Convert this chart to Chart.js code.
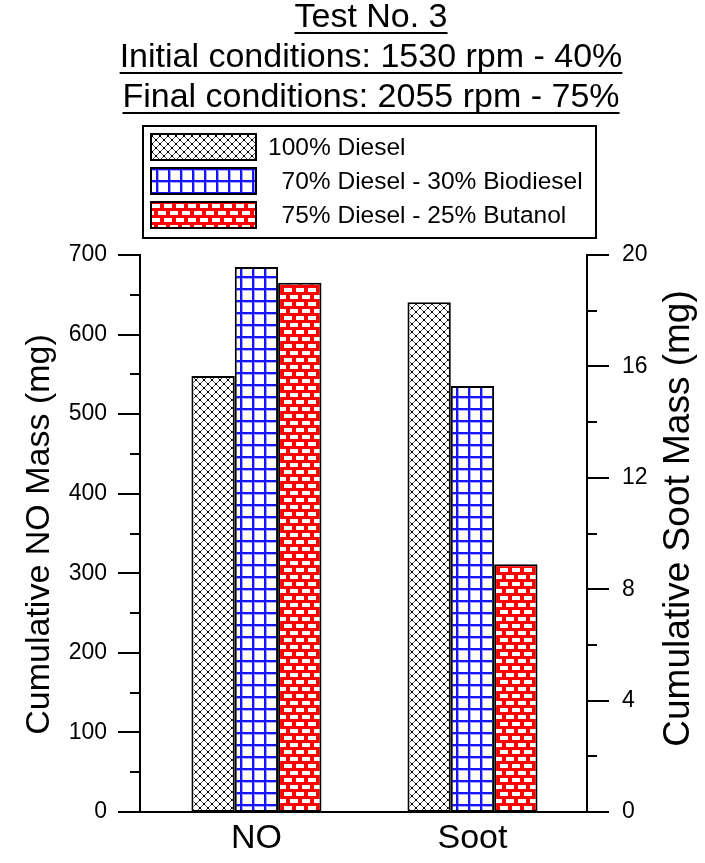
<!DOCTYPE html>
<html>
<head>
<meta charset="utf-8">
<script src="https://cdn.jsdelivr.net/npm/chart.js@4/dist/chart.umd.min.js"></script>
<style>
  html, body { margin: 0; padding: 0; background: #fff; }
  canvas { display: block; }
</style>
</head>
<body>
<canvas id="c" width="705" height="863"></canvas>
<script>
// ---- data ----
const categories = ['NO', 'Soot'];
const fuels = ['100% Diesel', '  70% Diesel - 30% Biodiesel', '  75% Diesel - 25% Butanol'];
const noMass = [548, 685, 665];        // mg, left axis
const sootMass = [18.3, 15.3, 8.9];    // mg, right axis
const titleLines = ['Test No. 3', 'Initial conditions: 1530 rpm - 40%', 'Final conditions: 2055 rpm - 75%'];
const noAxisTitle = 'Cumulative NO Mass (mg)';
const sootAxisTitle = 'Cumulative Soot Mass (mg)';

const FONT = '"Liberation Sans", Arial, Helvetica, sans-serif';

// ---- fill patterns ----
function tile(w, h, draw) {
  const c = document.createElement('canvas');
  c.width = w; c.height = h;
  const g = c.getContext('2d');
  draw(g, w, h);
  return c;
}
const probe = document.createElement('canvas').getContext('2d');

const crossHatch = probe.createPattern(tile(8, 8, (g, w, h) => {
  g.fillStyle = '#fff'; g.fillRect(0, 0, w, h);
  g.strokeStyle = '#555'; g.lineWidth = 1;
  g.beginPath();
  g.moveTo(-1, -1); g.lineTo(w + 1, h + 1);
  g.moveTo(w + 1, -1); g.lineTo(-1, h + 1);
  g.stroke();
  g.fillStyle = '#000';
  g.fillRect(3, 3, 2, 2);
  g.fillRect(0, 0, 1, 1); g.fillRect(7, 0, 1, 1); g.fillRect(0, 7, 1, 1); g.fillRect(7, 7, 1, 1);
}), 'repeat');

const blueGrid = probe.createPattern(tile(12, 12, (g, w, h) => {
  g.fillStyle = '#fff'; g.fillRect(0, 0, w, h);
  g.fillStyle = '#a8a8ff';
  g.fillRect(0, 2, w, 1); g.fillRect(2, 0, 1, h);
  g.fillStyle = '#1414ff';
  g.fillRect(0, 0, w, 2); g.fillRect(0, 0, 2, h);
}), 'repeat');

const redBrick = probe.createPattern(tile(12, 14, (g, w, h) => {
  g.fillStyle = '#ff0000'; g.fillRect(0, 0, w, h);
  g.fillStyle = '#fff';
  g.fillRect(2, 1, 8, 4);
  g.fillRect(8, 8, 4, 4); g.fillRect(0, 8, 4, 4);
}), 'repeat');

const fills = [crossHatch, blueGrid, redBrick];

// ---- datasets: one bar per fuel in each category (categories sit at x = 0, 1), nulls skipped ----
const datasets = [];
fuels.forEach((name, i) => {
  const common = {
    label: name.trim(),
    backgroundColor: fills[i],
    borderColor: '#000',
    borderWidth: 2,
    borderSkipped: false,
    skipNull: true,
    categoryPercentage: 0.602,
    barPercentage: 1.0
  };
  datasets.push(Object.assign({}, common, {
    data: [{ x: 0, y: noMass[i] }, { x: 1, y: null }], yAxisID: 'y'
  }));
  datasets.push(Object.assign({}, common, {
    data: [{ x: 0, y: null }, { x: 1, y: sootMass[i] }], yAxisID: 'y2'
  }));
});

// ---- plugins ----
const tickMarks = {
  id: 'tickMarks',
  afterDraw(chart) {
    const ctx = chart.ctx;
    const specs = [{ id: 'y', major: 100, side: -1 }, { id: 'y2', major: 4, side: 1 }];
    ctx.save();
    ctx.strokeStyle = '#000';
    ctx.lineWidth = 2;
    specs.forEach(s => {
      const sc = chart.scales[s.id];
      const x0 = s.side < 0 ? chart.chartArea.left : chart.chartArea.right;
      sc.ticks.forEach(t => {
        const y = Math.round(sc.getPixelForValue(t.value));
        const r = Math.abs(t.value / s.major - Math.round(t.value / s.major));
        const len = r < 1e-6 ? 22 : 10;
        ctx.beginPath();
        ctx.moveTo(x0, y);
        ctx.lineTo(x0 + s.side * len, y);
        ctx.stroke();
      });
    });
    ctx.restore();
  }
};

const headings = {
  id: 'headings',
  afterDraw(chart) {
    const ctx = chart.ctx;
    const area = chart.chartArea;
    ctx.save();
    ctx.fillStyle = '#000';
    ctx.strokeStyle = '#000';

    // underlined heading
    ctx.font = '34px ' + FONT;
    ctx.textAlign = 'center';
    ctx.textBaseline = 'alphabetic';
    const cx = 371;
    titleLines.forEach((line, i) => {
      const base = 27 + i * 40;
      ctx.fillText(line, cx, base);
      const w = ctx.measureText(line).width;
      ctx.lineWidth = 2;
      ctx.beginPath();
      ctx.moveTo(cx - w / 2, base + 6);
      ctx.lineTo(cx + w / 2, base + 6);
      ctx.stroke();
    });

    // axis titles, both reading bottom to top
    const midY = (area.top + area.bottom) / 2;
    ctx.textBaseline = 'middle';
    [[noAxisTitle, 34, 40, midY + 1], [sootAxisTitle, 37, 679, midY - 15]].forEach(([text, size, x, y]) => {
      ctx.save();
      ctx.font = size + 'px ' + FONT;
      ctx.translate(x, y);
      ctx.rotate(-Math.PI / 2);
      ctx.fillText(text, 0, 0);
      ctx.restore();
    });

    // legend box
    const box = { x: 143, y: 126, w: 453, h: 112 };
    ctx.lineWidth = 2;
    ctx.strokeRect(box.x, box.y, box.w, box.h);
    ctx.font = '24.5px ' + FONT;
    ctx.textAlign = 'left';
    ctx.textBaseline = 'middle';
    fuels.forEach((name, i) => {
      const sy = 133 + i * 34;
      ctx.fillStyle = fills[i];
      ctx.fillRect(150, sy, 107, 28);
      ctx.strokeRect(151, sy + 1, 105, 26);
      ctx.fillStyle = '#000';
      ctx.fillText(name, 268, sy + 15);
    });
    ctx.restore();
  }
};

// ---- chart ----
new Chart(document.getElementById('c'), {
  type: 'bar',
  data: { datasets },
  options: {
    responsive: false,
    devicePixelRatio: 1,
    animation: false,
    events: [],
    layout: { padding: { top: 255, left: 0, right: 0, bottom: 0 } },
    plugins: { legend: { display: false }, title: { display: false }, tooltip: { enabled: false } },
    scales: {
      x: {
        type: 'linear',
        offset: false,
        min: -0.539, max: 1.530,
        grid: { display: false, drawTicks: false, offset: false },
        border: { display: true, color: '#000', width: 2 },
        ticks: {
          color: '#000', font: { family: FONT, size: 34 }, padding: 6, autoSkip: false, maxRotation: 0,
          callback: v => categories[v] ?? ''
        },
        afterBuildTicks: s => { s.ticks = categories.map((_, i) => ({ value: i })); },
        afterFit: s => { s.height = 51; }
      },
      y: {
        position: 'left',
        min: 0, max: 700,
        grid: { display: false, drawTicks: false },
        border: { display: true, color: '#000', width: 2 },
        ticks: {
          stepSize: 50, maxTicksLimit: 30, color: '#000', padding: 33,
          font: { family: FONT, size: 23 },
          callback: v => (v % 100 === 0 ? String(v) : '')
        },
        afterFit: s => { s.width = 140; }
      },
      y2: {
        position: 'right',
        min: 0, max: 20,
        grid: { display: false, drawTicks: false },
        border: { display: true, color: '#000', width: 2 },
        ticks: {
          stepSize: 2, maxTicksLimit: 30, color: '#000', padding: 35,
          font: { family: FONT, size: 23 },
          callback: v => (Math.abs(v % 4) < 1e-6 ? String(v) : '')
        },
        afterFit: s => { s.width = 118; }
      }
    }
  },
  plugins: [tickMarks, headings]
});
</script>
</body>
</html>
